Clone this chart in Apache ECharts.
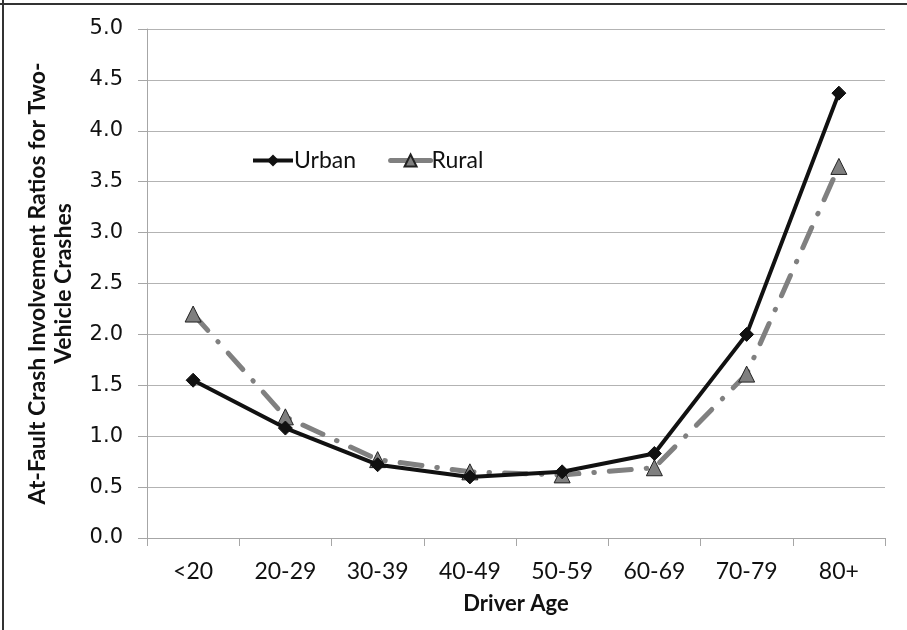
<!DOCTYPE html>
<html>
<head>
<meta charset="utf-8">
<script src="https://cdn.jsdelivr.net/npm/echarts@6/dist/echarts.min.js"></script>
<style>
  html, body { margin: 0; padding: 0; background: #fff; }
  #chart { width: 907px; height: 630px; }
</style>
</head>
<body>
<div id="chart"></div>
<script>
// Driver age groups and at-fault involvement ratios for two-vehicle crashes
const ageGroups = ['<20', '20-29', '30-39', '40-49', '50-59', '60-69', '70-79', '80+'];
const urbanRatios = [1.55, 1.08, 0.72, 0.60, 0.65, 0.83, 2.00, 4.37];
const ruralRatios = [2.20, 1.19, 0.77, 0.65, 0.62, 0.69, 1.61, 3.65];
const yTicks = { min: 0, max: 5, step: 0.5 };

const chart = echarts.init(document.getElementById('chart'));
const font = 'Lato, "Open Sans", sans-serif';

chart.setOption({
  animation: false,
  backgroundColor: '#fff',
  grid: { left: 147, right: 22, top: 29, bottom: 92, containLabel: false },
  legend: {
    left: 246,
    top: 144,
    itemWidth: 40,
    itemHeight: 15,
    itemGap: 32,
    textStyle: { fontFamily: font, fontSize: 23, color: '#111', padding: [0, 0, 0, -4] },
    data: [
      { name: 'Urban', lineStyle: { width: 4 } },
      { name: 'Rural', lineStyle: { type: 'solid', width: 5 } }
    ]
  },
  xAxis: {
    type: 'category',
    data: ageGroups,
    boundaryGap: true,
    name: 'Driver Age',
    nameLocation: 'middle',
    nameGap: 55,
    nameTextStyle: { fontFamily: font, fontSize: 22, fontWeight: 'bold', color: '#111' },
    axisLine: { lineStyle: { color: '#a6a6a6', width: 1 } },
    axisTick: { show: true, length: 8, alignWithLabel: false, lineStyle: { color: '#a6a6a6' } },
    axisLabel: { fontFamily: font, fontSize: 23, color: '#111', margin: 22 },
    splitLine: { show: false }
  },
  yAxis: {
    type: 'value',
    min: yTicks.min,
    max: yTicks.max,
    interval: yTicks.step,
    name: 'At-Fault Crash Involvement Ratios for Two-\nVehicle Crashes',
    nameLocation: 'middle',
    nameRotate: 90,
    nameGap: 70,
    nameTextStyle: { fontFamily: font, fontSize: 23, fontWeight: 'bold', color: '#111', lineHeight: 26 },
    axisLine: { show: true, lineStyle: { color: '#a6a6a6', width: 1 } },
    axisTick: { show: true, length: 9, lineStyle: { color: '#a6a6a6' } },
    axisLabel: {
      fontFamily: '"DejaVu Sans", sans-serif',
      fontSize: 21,
      color: '#111',
      margin: 24,
      formatter: v => v.toFixed(1)
    },
    splitLine: { show: true, lineStyle: { color: '#b3b3b3', width: 1 } }
  },
  series: [
    {
      name: 'Urban',
      type: 'line',
      data: urbanRatios,
      symbol: 'diamond',
      symbolSize: 14,
      itemStyle: { color: '#111', borderColor: '#111' },
      lineStyle: { color: '#111', width: 4 },
      z: 3
    },
    {
      name: 'Rural',
      type: 'line',
      data: ruralRatios,
      symbol: 'triangle',
      symbolSize: 16,
      itemStyle: { color: '#7f7f7f', borderColor: '#222', borderWidth: 1 },
      lineStyle: { color: '#808080', width: 5, type: [22, 15, 0.5, 15], cap: 'round' },
      z: 2
    }
  ],
  graphic: [
    { type: 'line', shape: { x1: 3, y1: 0, x2: 3, y2: 630 }, style: { stroke: '#333', lineWidth: 2 } },
    { type: 'line', shape: { x1: 0, y1: 4, x2: 907, y2: 4 }, style: { stroke: '#333', lineWidth: 2 } }
  ]
});
</script>
</body>
</html>
